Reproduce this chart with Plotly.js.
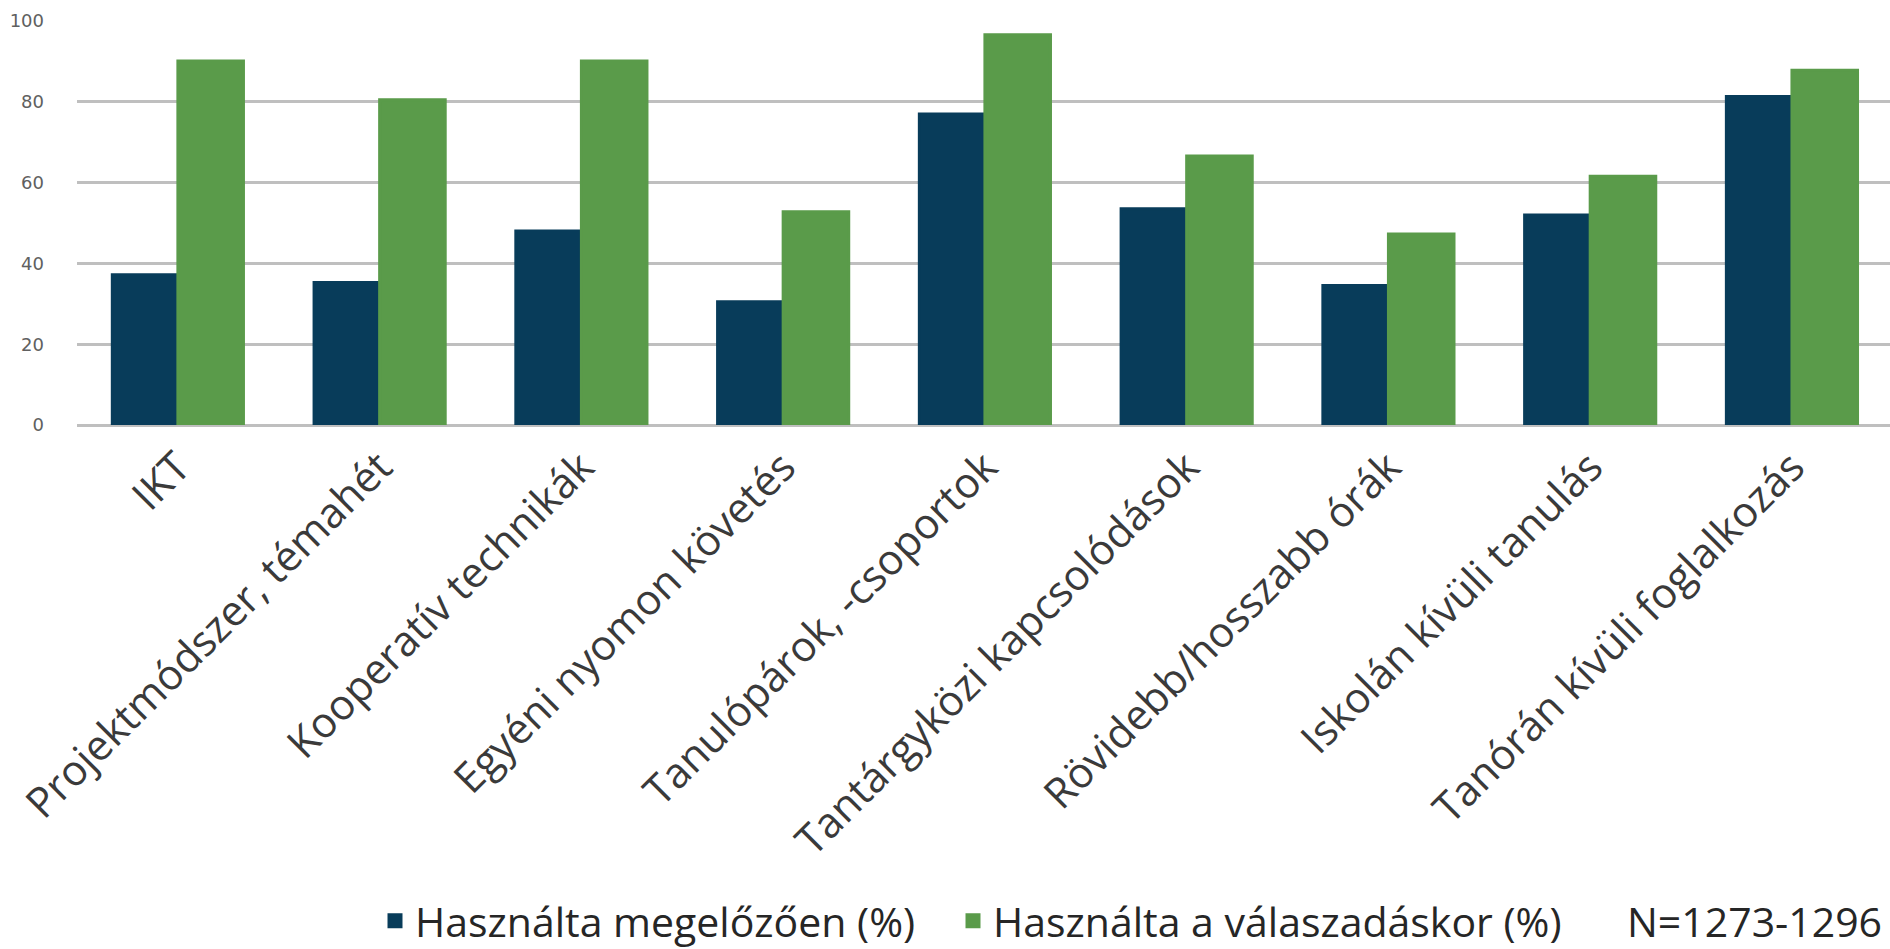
<!DOCTYPE html>
<html>
<head>
<meta charset="utf-8">
<script src="https://cdn.plot.ly/plotly-3.0.1.min.js"></script>
<style>
  html, body { margin: 0; padding: 0; background: #ffffff; }
  #chart { width: 1890px; height: 949px; }
</style>
</head>
<body>
<div id="chart"></div>
<script>
var categories = [
  "IKT",
  "Projektmódszer, témahét",
  "Kooperatív technikák",
  "Egyéni nyomon követés",
  "Tanulópárok, -csoportok",
  "Tantárgyközi kapcsolódások",
  "Rövidebb/hosszabb órák",
  "Iskolán kívüli tanulás",
  "Tanórán kívüli foglalkozás"
];
var seriesNames = ["Használta megelőzően (%)", "Használta a válaszadáskor (%)"];
var before = [37.2, 35.3, 48.0, 30.5, 77.0, 53.5, 34.5, 52.0, 81.3];
var during = [90.1, 80.5, 90.1, 52.8, 96.6, 66.6, 47.3, 61.6, 87.8];
var yTicks = [0, 20, 40, 60, 80, 100];
var noteText = "N=1273-1296";

var blue = "#083C5A";
var green = "#5A9B4A";

var traces = [
  {
    type: "bar",
    name: seriesNames[0],
    x: categories,
    y: before,
    legend: "legend",
    marker: { color: blue, line: { color: blue, width: 3 } },
    hoverinfo: "x+y+name"
  },
  {
    type: "bar",
    name: seriesNames[1],
    x: categories,
    y: during,
    legend: "legend2",
    marker: { color: green, line: { color: green, width: 3 } },
    hoverinfo: "x+y+name"
  }
];

var legendFont = { family: "Open Sans", size: 41, color: "#262626" };
var legendCenterPx = 921;
var legendY = 1 - legendCenterPx / 949;

var layout = {
  width: 1890,
  height: 949,
  paper_bgcolor: "#ffffff",
  plot_bgcolor: "#ffffff",
  font: { family: "Open Sans", color: "#333333" },
  margin: { l: 77, r: 0, t: 21, b: 524, autoexpand: false },
  barmode: "group",
  bargap: 0.35,
  bargroupgap: 0,
  xaxis: {
    type: "category",
    range: [-0.5, 8.486],
    tickangle: -45,
    tickfont: { family: "Open Sans", size: 42, color: "#3a3a3a" },
    showgrid: false,
    showline: false,
    zeroline: false,
    ticks: "",
    ticklabelstandoff: 8,
    fixedrange: true
  },
  yaxis: {
    range: [0, 100],
    tickvals: yTicks,
    ticktext: yTicks.map(String),
    tickfont: { family: "DejaVu Sans", size: 18, color: "#606060" },
    showgrid: true,
    gridcolor: "#BFBFBF",
    gridwidth: 3,
    zeroline: true,
    zerolinecolor: "#BFBFBF",
    zerolinewidth: 3,
    showline: false,
    ticks: "",
    ticklabelstandoff: 32,
    fixedrange: true
  },
  showlegend: true,
  legend: {
    orientation: "h",
    xref: "container",
    yref: "container",
    x: 375 / 1890,
    xanchor: "left",
    y: legendY,
    yanchor: "middle",
    font: legendFont,
    bgcolor: "rgba(0,0,0,0)",
    itemclick: false,
    itemdoubleclick: false
  },
  legend2: {
    orientation: "h",
    xref: "container",
    yref: "container",
    x: 953 / 1890,
    xanchor: "left",
    y: legendY,
    yanchor: "middle",
    font: legendFont,
    bgcolor: "rgba(0,0,0,0)",
    itemclick: false,
    itemdoubleclick: false
  },
  annotations: [
    {
      text: noteText,
      xref: "paper",
      yref: "paper",
      x: (1625 - 77) / (1890 - 77),
      y: -(legendCenterPx - 425) / 404,
      xanchor: "left",
      yanchor: "middle",
      showarrow: false,
      font: legendFont
    }
  ]
};

Plotly.newPlot("chart", traces, layout, { displayModeBar: false, staticPlot: true });
</script>
</body>
</html>
